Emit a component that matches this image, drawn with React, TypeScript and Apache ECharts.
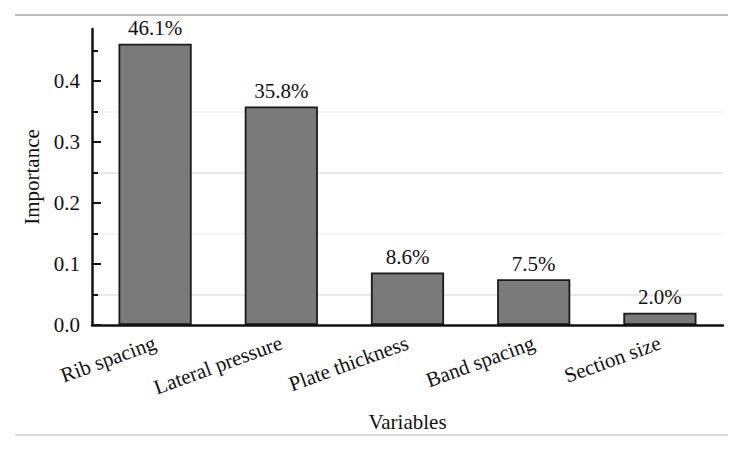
import React, { useEffect, useRef } from "react";
import * as echarts from "echarts";

const categories = ["Rib spacing", "Lateral pressure", "Plate thickness", "Band spacing", "Section size"];
const importance = [0.461, 0.358, 0.086, 0.075, 0.02];
const majorTicks = [0, 0.1, 0.2, 0.3, 0.4];
const minorTicks = [0.05, 0.15, 0.25, 0.35, 0.45];
const yMax = 0.485;

const FONT = "Liberation Serif";
const FS = 21;

export default function App() {
  const ref = useRef<HTMLDivElement>(null);
  useEffect(() => {
    document.body.style.margin = "0";
    const chart = echarts.init(ref.current!, undefined, { renderer: "svg" });
    chart.setOption({
      animation: false,
      backgroundColor: "#ffffff",
      textStyle: { fontFamily: FONT },
      grid: { left: 92, right: 22, top: 29, bottom: 126 },
      graphic: [
        { type: "line", shape: { x1: 15, y1: 15, x2: 728, y2: 15 }, style: { stroke: "#aaaaaa", lineWidth: 1.5 } },
        { type: "line", shape: { x1: 15, y1: 435, x2: 728, y2: 435 }, style: { stroke: "#cfcfcf", lineWidth: 1.5 } },
      ],
      xAxis: {
        type: "category",
        data: categories,
        name: "Variables",
        nameLocation: "middle",
        nameGap: 86,
        nameTextStyle: { fontFamily: FONT, fontSize: FS, color: "#111" },
        axisLine: { lineStyle: { color: "#111", width: 2.5 } },
        axisTick: { show: false },
        axisLabel: { rotate: 20, fontFamily: FONT, fontSize: FS, color: "#111", margin: 17, interval: 0 },
        z: 10,
      },
      yAxis: [
        {
          type: "value",
          min: 0,
          max: yMax,
          interval: 0.1,
          name: "Importance",
          nameLocation: "middle",
          nameGap: 48,
          nameTextStyle: { fontFamily: FONT, fontSize: FS, color: "#111" },
          axisLine: { show: true, lineStyle: { color: "#111", width: 2.5 } },
          axisTick: { show: true, inside: true, length: 9, customValues: majorTicks, lineStyle: { color: "#111", width: 2 } },
          axisLabel: {
            customValues: majorTicks,
            fontFamily: FONT,
            fontSize: FS,
            color: "#111",
            margin: 12,
            formatter: (v: number) => v.toFixed(1),
          },
          splitLine: { show: false },
        },
        {
          type: "value",
          min: 0,
          max: yMax,
          interval: 0.05,
          position: "left",
          axisLine: { show: false },
          axisTick: { show: true, inside: true, length: 6, customValues: minorTicks, lineStyle: { color: "#111", width: 2 } },
          axisLabel: { show: false },
          splitLine: { show: true, showMaxLine: false, lineStyle: { color: ["#e3e3e3", "#f0f0f0"], width: 1.5 } },
        },
      ],
      series: [
        {
          type: "bar",
          yAxisIndex: 0,
          data: importance,
          barWidth: "58%",
          itemStyle: { color: "#7a7a7a", borderColor: "#1a1a1a", borderWidth: 1.8 },
          label: {
            show: true,
            position: "top",
            distance: 5,
            fontFamily: FONT,
            fontSize: FS,
            color: "#111",
            formatter: (p: any) => (p.value * 100).toFixed(1) + "%",
          },
        },
      ],
    });
    return () => chart.dispose();
  }, []);
  return <div ref={ref} style={{ width: 745, height: 451 }} />;
}
